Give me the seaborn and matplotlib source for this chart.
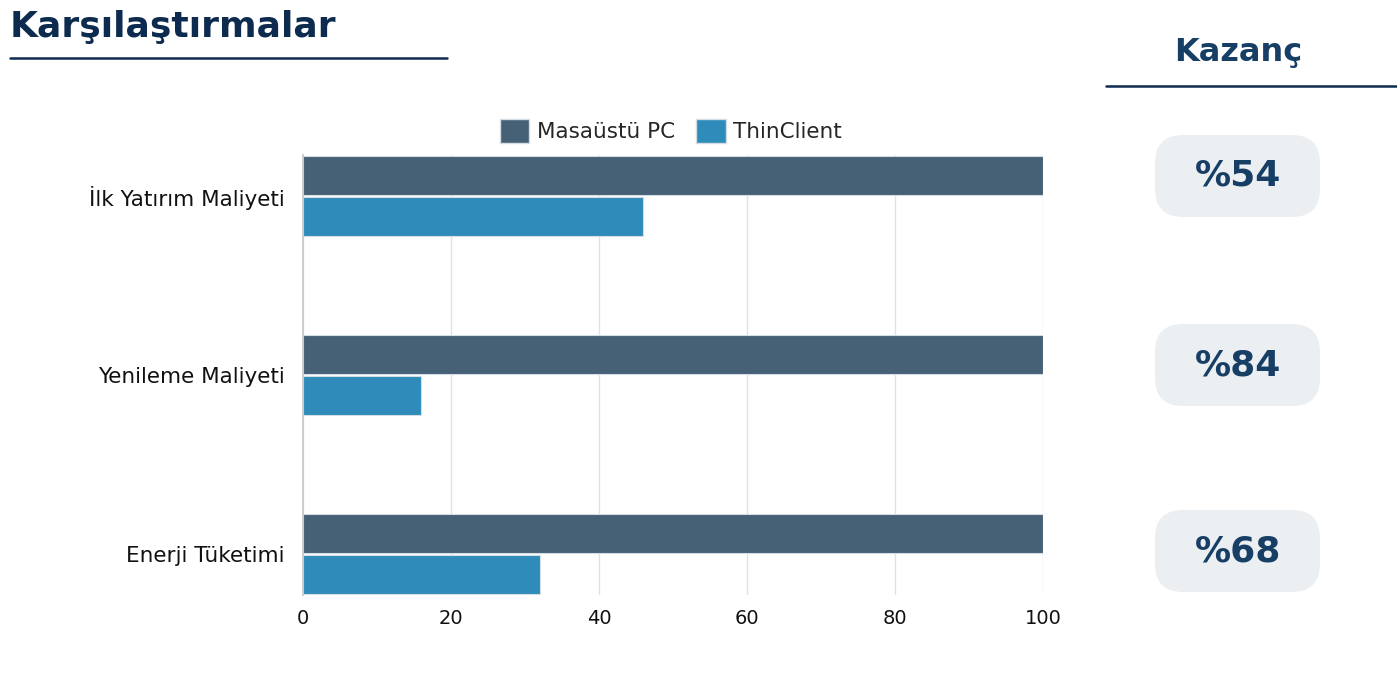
import matplotlib
matplotlib.use('Agg')
import matplotlib.pyplot as plt
import seaborn as sns
import pandas as pd
from matplotlib.patches import FancyBboxPatch
from matplotlib.lines import Line2D

# data
kategoriler = ['İlk Yatırım Maliyeti', 'Yenileme Maliyeti', 'Enerji Tüketimi']
masaustu = [100, 100, 100]
thinclient = [46, 16, 32]
kazanc = [54, 84, 68]
seriler = ['Masaüstü PC', 'ThinClient']

renkler = {'Masaüstü PC': '#466076', 'ThinClient': '#2e8bba'}
lacivert = '#0d2b4e'
mavi = '#173f66'

df = pd.DataFrame({
    'kategori': kategoriler * 2,
    'deger': masaustu + thinclient,
    'seri': [seriler[0]] * 3 + [seriler[1]] * 3,
})

sns.set_theme(style='white')
plt.rcParams['font.family'] = ['DejaVu Sans']

fig = plt.figure(figsize=(13.97, 6.82), dpi=100)
ax = fig.add_axes([303 / 1397, 1 - 595 / 682, 740 / 1397, 440 / 682])

sns.barplot(data=df, x='deger', y='kategori', hue='seri', orient='h',
            palette=renkler, saturation=1, width=0.46, gap=0.05, ax=ax,
            edgecolor='#d5dde4', linewidth=0.8, legend=False)

ax.set_xlim(0, 100)
ax.set_ylim(2.23, -0.23)
ax.set_xticks([0, 20, 40, 60, 80, 100])
ax.grid(axis='x', color='#e2e2e2', linewidth=1)
ax.set_axisbelow(True)
sns.despine(ax=ax, top=True, right=True, bottom=True)
ax.spines['left'].set_color('#c8c8c8')
ax.set_xlabel('')
ax.set_ylabel('')
ax.tick_params(axis='x', length=0, pad=10, labelsize=14, colors='#111111')
ax.tick_params(axis='y', length=0, pad=13, labelsize=15.5, colors='#111111')

# legend
handles = [plt.Rectangle((0, 0), 1, 1, facecolor=renkler[s], edgecolor='#d5dde4') for s in seriler]
fig.legend(handles, seriler, loc='center', bbox_to_anchor=(671 / 1397, 1 - 131 / 682),
           ncol=2, frameon=False, handlelength=1.35, handleheight=1.35,
           handletextpad=0.35, columnspacing=1.0, prop={'size': 15.5})

# title and underline
fig.text(10 / 1397, 1 - 27 / 682, 'Karşılaştırmalar', fontsize=26, fontweight='bold',
         color=lacivert, ha='left', va='center')
fig.add_artist(Line2D([10 / 1397, 447 / 1397], [1 - 58 / 682, 1 - 58 / 682],
                      color=lacivert, linewidth=1.8))

# Kazanç column
fig.text(1238 / 1397, 1 - 52 / 682, 'Kazanç', fontsize=23, fontweight='bold',
         color=mavi, ha='center', va='center')
fig.add_artist(Line2D([1106 / 1397, 1], [1 - 86 / 682, 1 - 86 / 682],
                      color=lacivert, linewidth=1.8))

kutu_merkez = [176, 365, 551]
for k, yc in zip(kazanc, kutu_merkez):
    box = FancyBboxPatch((11.55, (682 - yc - 41) / 100), 1.65, 0.82,
                         boxstyle='round,pad=0,rounding_size=0.28',
                         transform=fig.dpi_scale_trans, facecolor='#eceff2',
                         edgecolor='none')
    fig.add_artist(box)
    fig.text(1238 / 1397, 1 - yc / 682, f'%{k}', fontsize=26, fontweight='bold',
             color=mavi, ha='center', va='center')

fig.savefig('out.png', dpi=100)
